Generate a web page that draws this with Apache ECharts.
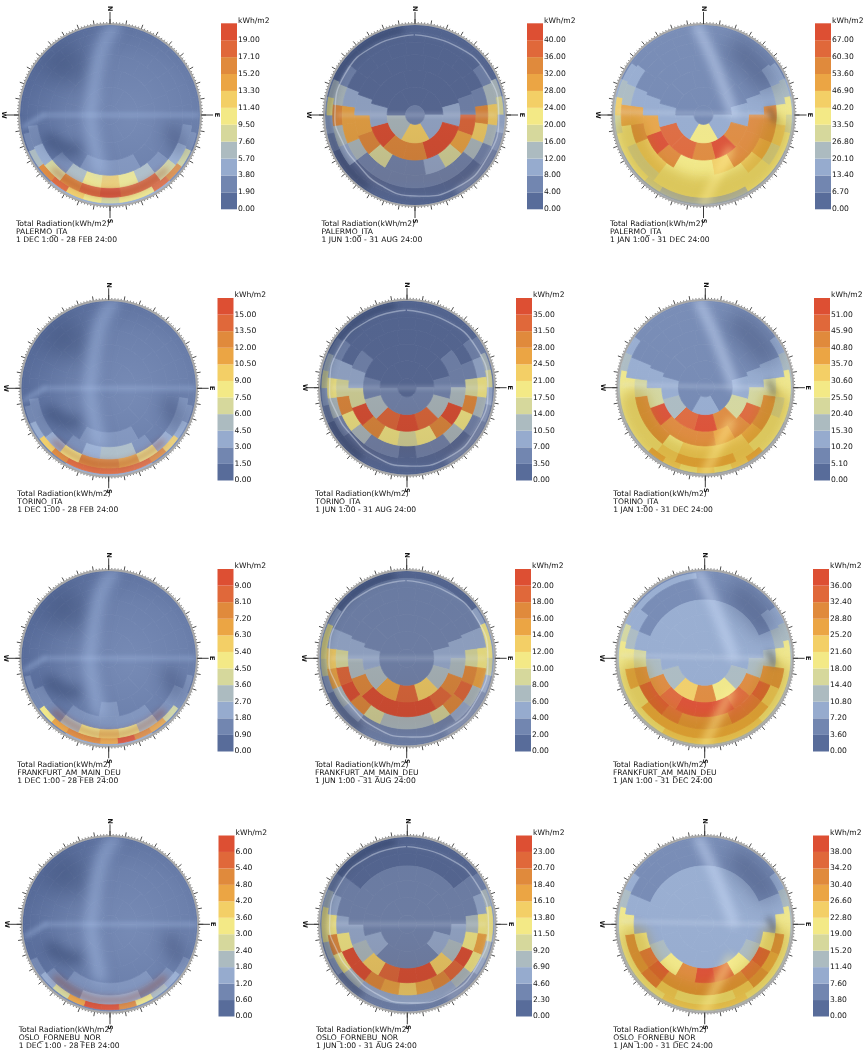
<!DOCTYPE html>
<html><head><meta charset="utf-8">
<style>html,body{margin:0;padding:0;background:#fff}#c{width:868px;height:1055px;filter:blur(0.55px)}</style>
<script src="https://cdn.jsdelivr.net/npm/echarts@6/dist/echarts.min.js"></script>
</head><body><div id="c"></div>
<script>
// Sky patches, N clockwise; eight bands from horizon to zenith. Values in kWh/m2.
const palermoDJF=[
[.9,.9,.9,.9,.9,.9,.9,.9,.9,.9,2.8,2.8,4.7,4.7,4.7,4.7,4.7,4.7,4.7,2.8,2.8,.9,.9,.9,.9,.9,.9,.9,.9,.9],
[.9,.9,.9,.9,.9,.9,.9,.9,.9,2.8,8.5,16.1,18,10.4,10.4,8.5,10.4,12.3,18,16.1,6.6,2.8,.9,.9,.9,.9,.9,.9,.9,.9],
[.9,.9,.9,.9,.9,.9,.9,2.8,4.7,8.5,18,18,19.9,18,16.1,8.5,4.7,2.8,.9,.9,.9,.9,.9,.9],
[.9,.9,.9,.9,.9,.9,.9,.9,.9,2.8,6.6,10.4,12.3,10.4,6.6,2.8,.9,.9,.9,.9,.9,.9,.9,.9],
[.9,.9,.9,.9,.9,.9,.9,.9,2.8,2.8,2.8,.9,.9,.9,.9,.9,.9,.9],
[.9,.9,.9,.9,.9,.9,.9,.9,.9,.9,.9,.9],
[.9,.9,.9,.9,.9,.9],[.9]];
const palermoJJA=[
[2,2,2,2,2,2,6,10,10,6,2,2,2,2,2,2,2,2,2,2,2,6,10,10,6,2,2,2,2,2],
[2,2,2,2,2,2,14,18,10,6,2,2,2,2,2,2,2,2,2,2,2,6,10,22,14,2,2,2,2,2],
[2,2,2,2,6,14,26,14,6,2,2,2,2,2,2,2,10,14,34,14,6,2,2,2],
[2,2,2,2,2,6,34,26,14,6,6,6,6,6,6,6,14,30,30,10,2,2,2,2],
[2,2,2,2,6,38,30,18,10,6,6,18,34,30,10,2,2,2],
[2,2,2,10,42,42,34,34,42,10,2,2],
[2,2,10,26,14,2],[6]];
const palermoYear=[
[10,10,10,10,10,10,16.7,23.4,23.4,23.4,16.7,16.7,16.7,16.7,16.7,16.7,16.7,16.7,16.7,16.7,16.7,23.4,23.4,23.4,16.7,10,10,10,10,10],
[10,10,10,10,10,16.7,23.4,36.8,30.1,36.8,36.8,36.8,36.8,23.4,23.4,23.4,23.4,23.4,30.1,36.8,36.8,36.8,30.1,43.5,23.4,16.7,10,10,10,10],
[10,10,10,10,16.7,23.4,36.8,43.5,30.1,36.8,36.8,36.8,36.8,36.8,36.8,30.1,30.1,36.8,50.2,23.4,16.7,10,10,10],
[10,10,10,10,10,16.7,56.9,56.9,50.2,43.5,36.8,36.8,36.8,36.8,36.8,43.5,43.5,56.9,50.2,16.7,10,10,10,10],
[10,10,10,10,16.7,56.9,56.9,56.9,43.5,36.8,36.8,56.9,70.3,50.2,16.7,10,10,10],
[10,10,10,16.7,56.9,70.3,56.9,63.6,63.6,16.7,10,10],
[10,10,16.7,36.8,16.7,10],[10]];
const torinoDJF=[
[.7,.7,.7,.7,.7,.7,.7,.7,.7,.7,2.2,2.2,2.2,3.7,3.7,3.7,3.7,3.7,2.2,2.2,2.2,.7,.7,.7,.7,.7,.7,.7,.7,.7],
[.7,.7,.7,.7,.7,.7,.7,.7,.7,2.2,3.7,9.7,12.7,14.2,14.2,14.2,14.2,14.2,12.7,9.7,3.7,2.2,.7,.7,.7,.7,.7,.7,.7,.7],
[.7,.7,.7,.7,.7,.7,.7,2.2,2.2,3.7,8.2,11.2,12.7,12.7,8.2,3.7,2.2,2.2,.7,.7,.7,.7,.7,.7],
[.7,.7,.7,.7,.7,.7,.7,.7,.7,.7,2.2,5.2,5.2,3.7,2.2,.7,.7,.7,.7,.7,.7,.7,.7,.7],
[.7,.7,.7,.7,.7,.7,.7,.7,2.2,2.2,2.2,.7,.7,.7,.7,.7,.7,.7],
[.7,.7,.7,.7,.7,.7,.7,.7,.7,.7,.7,.7],
[.7,.7,.7,.7,.7,.7],[.7]];
const torinoJJA=[
[1.7,1.7,1.7,1.7,1.7,5.2,5.2,5.2,5.2,1.7,1.7,1.7,1.7,1.7,1.7,1.7,1.7,1.7,1.7,1.7,1.7,5.2,5.2,5.2,5.2,1.7,1.7,1.7,1.7,1.7],
[1.7,1.7,1.7,1.7,1.7,5.2,12.2,15.7,8.7,5.2,1.7,1.7,1.7,1.7,1.7,1.7,1.7,1.7,1.7,1.7,1.7,5.2,8.7,15.7,12.2,5.2,1.7,1.7,1.7,1.7],
[1.7,1.7,1.7,1.7,5.2,8.7,19.2,12.2,5.2,1.7,1.7,1.7,1.7,1.7,1.7,1.7,5.2,12.2,19.2,8.7,5.2,1.7,1.7,1.7],
[1.7,1.7,1.7,1.7,1.7,5.2,15.7,29.7,19.2,12.2,5.2,5.2,1.7,5.2,5.2,12.2,19.2,29.7,15.7,8.7,1.7,1.7,1.7,1.7],
[1.7,1.7,1.7,5.2,5.2,12.2,36.7,29.7,19.2,15.7,19.2,29.7,36.7,15.7,8.7,5.2,1.7,1.7],
[1.7,1.7,1.7,5.2,12.2,33.2,36.7,33.2,12.2,5.2,1.7,1.7],
[1.7,1.7,5.2,5.2,5.2,1.7],[1.7]];
const torinoYear=[
[7.6,7.6,7.6,7.6,7.6,12.7,17.8,17.8,17.8,17.8,12.7,12.7,12.7,12.7,12.7,12.7,12.7,12.7,12.7,12.7,12.7,17.8,17.8,17.8,17.8,12.7,7.6,7.6,7.6,7.6],
[7.6,7.6,7.6,7.6,7.6,12.7,17.8,28,28,28,28,28,38.2,33.1,28,33.1,28,33.1,38.2,28,28,28,28,28,17.8,12.7,7.6,7.6,7.6,7.6],
[7.6,7.6,7.6,7.6,7.6,12.7,28,22.9,28,28,33.1,38.2,38.2,38.2,33.1,28,28,28,28,12.7,7.6,7.6,7.6,7.6],
[7.6,7.6,7.6,7.6,7.6,12.7,22.9,43.3,43.3,38.2,33.1,33.1,33.1,33.1,28,43.3,43.3,43.3,22.9,12.7,7.6,7.6,7.6,7.6],
[7.6,7.6,7.6,7.6,12.7,22.9,48.4,43.3,38.2,43.3,43.3,43.3,53.5,22.9,12.7,7.6,7.6,7.6],
[7.6,7.6,7.6,12.7,22.9,43.3,53.5,48.4,17.8,12.7,7.6,7.6],
[7.6,7.6,7.6,12.7,7.6,7.6],[7.6]];
const frankfurtDJF=[
[.4,.4,.4,.4,.4,.4,.4,.4,.4,.4,1.3,1.3,1.3,2.2,2.2,2.2,2.2,2.2,1.3,1.3,1.3,.4,.4,.4,.4,.4,.4,.4,.4,.4],
[.4,.4,.4,.4,.4,.4,.4,.4,.4,1.3,1.3,4,6.7,7.6,9.4,6.7,7.6,7.6,6.7,4.9,1.3,1.3,.4,.4,.4,.4,.4,.4,.4,.4],
[.4,.4,.4,.4,.4,.4,.4,.4,1.3,1.3,3.1,4.9,5.8,4.9,3.1,1.3,1.3,.4,.4,.4,.4,.4,.4,.4],
[.4,.4,.4,.4,.4,.4,.4,.4,.4,.4,1.3,1.3,1.3,1.3,1.3,.4,.4,.4,.4,.4,.4,.4,.4,.4],
[.4,.4,.4,.4,.4,.4,.4,.4,.4,1.3,.4,.4,.4,.4,.4,.4,.4,.4],
[.4,.4,.4,.4,.4,.4,.4,.4,.4,.4,.4,.4],
[.4,.4,.4,.4,.4,.4],[.4]];
const frankfurtJJA=[
[1,1,1,1,1,3,5,5,5,3,3,3,3,3,3,3,3,3,3,3,3,3,5,5,5,3,1,1,1,1],
[1,1,1,1,1,5,11,11,9,5,3,3,3,3,3,3,3,3,3,3,3,5,9,11,11,5,1,1,1,1],
[3,3,3,3,3,5,11,15,7,5,3,3,3,3,3,5,7,15,13,5,3,3,3,3],
[3,3,3,3,3,5,9,17,19,17,9,7,7,7,9,17,21,19,9,5,3,3,3,3],
[3,3,3,3,5,7,17,19,21,21,21,21,17,7,5,3,3,3],
[3,3,3,5,7,13,19,15,7,5,3,3],
[3,3,3,3,3,3],[3]];
const frankfurtYear=[
[5.4,5.4,5.4,5.4,5.4,9,12.6,12.6,12.6,12.6,12.6,12.6,12.6,12.6,12.6,12.6,12.6,12.6,12.6,12.6,12.6,12.6,12.6,12.6,12.6,9,5.4,5.4,5.4,5.4],
[5.4,5.4,5.4,5.4,5.4,9,12.6,19.8,19.8,19.8,19.8,19.8,23.4,23.4,23.4,23.4,23.4,23.4,19.8,19.8,19.8,19.8,19.8,19.8,16.2,9,9,9,9,9],
[5.4,5.4,5.4,5.4,9,12.6,19.8,30.6,23.4,27,27,27,27,27,27,27,19.8,27,19.8,12.6,9,5.4,5.4,5.4],
[5.4,5.4,5.4,5.4,5.4,9,12.6,30.6,37.8,34.2,34.2,30.6,30.6,30.6,34.2,37.8,37.8,30.6,16.2,9,5.4,5.4,5.4,5.4],
[9,9,9,9,9,12.6,30.6,34.2,37.8,37.8,37.8,34.2,30.6,12.6,9,9,9,9],
[9,9,9,9,12.6,19.8,30.6,23.4,12.6,9,9,9],
[9,9,9,9,9,9],[9]];
const osloDJF=[
[.3,.3,.3,.3,.3,.3,.3,.3,.3,.3,.9,.9,.9,.9,.9,.9,.9,.9,.9,.9,.9,.3,.3,.3,.3,.3,.3,.3,.3,.3],
[.3,.3,.3,.3,.3,.3,.3,.3,.3,.3,.9,1.5,2.1,3.3,5.1,6.3,6.3,4.5,2.7,1.5,.9,.3,.3,.3,.3,.3,.3,.3,.3,.3],
[.3,.3,.3,.3,.3,.3,.3,.3,.3,.9,.9,1.5,1.5,1.5,.9,.9,.3,.3,.3,.3,.3,.3,.3,.3],
[.3,.3,.3,.3,.3,.3,.3,.3,.3,.3,.9,.9,.9,.9,.9,.3,.3,.3,.3,.3,.3,.3,.3,.3],
[.3,.3,.3,.3,.3,.3,.3,.3,.3,.3,.3,.3,.3,.3,.3,.3,.3,.3],
[.3,.3,.3,.3,.3,.3,.3,.3,.3,.3,.3,.3],
[.3,.3,.3,.3,.3,.3],[.3]];
const osloJJA=[
[1.1,1.1,1.1,1.1,1.1,3.4,5.7,5.7,5.7,3.4,3.4,3.4,3.4,3.4,3.4,3.4,3.4,3.4,3.4,3.4,3.4,3.4,5.7,5.7,5.7,3.4,1.1,1.1,1.1,1.1],
[1.1,1.1,1.1,1.1,1.1,3.4,8,12.6,12.6,8,5.7,3.4,3.4,3.4,3.4,3.4,3.4,3.4,3.4,3.4,5.7,8,12.6,12.6,8,3.4,1.1,1.1,1.1,1.1],
[1.1,1.1,1.1,1.1,3.4,5.7,12.6,17.2,12.6,8,5.7,5.7,5.7,5.7,5.7,8,12.6,19.5,12.6,5.7,3.4,1.1,1.1,1.1],
[1.1,1.1,1.1,1.1,3.4,3.4,8,12.6,24.1,21.8,19.5,17.2,14.9,17.2,19.5,24.1,24.1,12.6,5.7,3.4,3.4,1.1,1.1,1.1],
[3.4,3.4,3.4,3.4,3.4,5.7,8,14.9,24.1,24.1,21.8,14.9,8,5.7,3.4,3.4,3.4,3.4],
[3.4,3.4,3.4,3.4,5.7,3.4,3.4,3.4,5.7,3.4,3.4,3.4],
[3.4,3.4,3.4,3.4,3.4,3.4],[3.4]];
const osloYear=[
[5.7,5.7,5.7,5.7,5.7,9.5,13.3,13.3,13.3,13.3,13.3,13.3,13.3,13.3,13.3,13.3,13.3,13.3,13.3,13.3,13.3,13.3,13.3,13.3,13.3,9.5,5.7,5.7,5.7,5.7],
[5.7,5.7,5.7,5.7,5.7,9.5,13.3,20.9,20.9,20.9,20.9,20.9,20.9,24.7,24.7,24.7,24.7,24.7,20.9,20.9,20.9,20.9,20.9,20.9,13.3,9.5,5.7,5.7,5.7,5.7],
[5.7,5.7,5.7,5.7,5.7,9.5,20.9,32.3,28.5,32.3,24.7,20.9,20.9,20.9,24.7,36.1,32.3,32.3,20.9,9.5,5.7,5.7,5.7,5.7],
[5.7,5.7,5.7,5.7,5.7,9.5,9.5,20.9,39.9,36.1,32.3,32.3,32.3,32.3,32.3,39.9,36.1,20.9,9.5,9.5,5.7,5.7,5.7,5.7],
[9.5,9.5,9.5,9.5,9.5,9.5,13.3,20.9,36.1,39.9,32.3,20.9,13.3,9.5,9.5,9.5,9.5,9.5],
[9.5,9.5,9.5,9.5,9.5,9.5,9.5,9.5,9.5,9.5,9.5,9.5],
[9.5,9.5,9.5,9.5,9.5,9.5],[9.5]];

const bandEdges=[1,.978,.914,.809,.669,.5,.309,.1045,0];
const palette=['#586c9a','#7286b0','#96abce','#acbbc0','#d6d89c','#f3e986','#f3cf66','#eba544','#e08a3c','#e0683a','#dd4f33'];
const compass=['N','E','S','W'];

// Glass sheen on the dome. p: [radius fraction, azimuth]. solid strokes are drawn; the rest are blur only.
const winterSheen={
 disc:()=>new echarts.graphic.RadialGradient(.62,.52,.62,[{offset:0,color:'rgba(190,210,245,.30)'},{offset:.55,color:'rgba(190,210,245,.20)'},{offset:1,color:'rgba(190,210,245,0)'}]),
 strokes:[
 {p:[[.8,310],[.8,325],[.6,320]],w:26,c:'rgba(30,45,85,.30)',b:22},
 {p:[[.72,248],[.64,235],[.55,225]],w:14,c:'rgba(30,45,85,.38)',b:12},
 {p:[[.72,105],[.85,115]],w:18,c:'rgba(30,45,85,.25)',b:14},
 {p:[[.87,135],[.87,160],[.87,180],[.87,200],[.87,225]],w:6,c:'rgba(150,40,0,.35)',b:6},
 {p:[[.98,3],[.8,355],[.52,343],[.26,311],[.22,270],[.33,214],[.62,190]],w:11,c:'rgba(175,200,240,.50)',b:12},
 {p:[[.74,270],[1,90]],w:2,c:'rgba(180,205,245,.65)',b:5},
 {p:[[.74,270],[.97,262]],w:4,c:'rgba(175,200,240,.45)',b:5},
 ]};
const summerSheen={
 disc:()=>new echarts.graphic.LinearGradient(0,0,0,1,[{offset:0,color:'rgba(40,40,60,.12)'},{offset:.5,color:'rgba(60,40,40,.10)'},{offset:.85,color:'rgba(70,40,30,.16)'},{offset:1,color:'rgba(40,40,60,.12)'}]),
 strokes:[
 {p:[[.96,215],[.96,250],[.96,285],[.96,320],[.96,350]],w:7,c:'rgba(25,40,75,.40)',b:7},
 {p:[[.89,0],[.89,30],[.92,60],[.93,90],[.93,120],[.93,150],[.9,180],[.87,205],[.84,230],[.86,250],[.89,270],[.9,300],[.89,330],[.89,359]],w:1.4,c:'rgba(230,238,250,.40)',b:4,solid:true},
 {p:[[.97,100],[.97,125],[.97,150]],w:5,c:'rgba(225,235,250,.35)',b:6},
 {p:[[.86,270],[.9,90]],w:1.5,c:'rgba(230,238,250,.55)',b:4},
 ]};
const yearSheen={
 disc:()=>new echarts.graphic.LinearGradient(0,0,0,1,[{offset:0,color:'rgba(190,210,245,.10)'},{offset:.5,color:'rgba(190,210,245,.08)'},{offset:1,color:'rgba(190,210,245,0)'}]),
 strokes:[
 {p:[[.83,103],[.85,130],[.85,155],[.85,180],[.85,205],[.85,230],[.83,257]],w:30,c:'rgba(175,135,10,.34)',b:12},
 {p:[[.83,29],[.8,61]],w:26,c:'rgba(30,45,85,.32)',b:20},
 {p:[[.98,356],[.69,6],[.46,23],[.33,87]],w:9,c:'rgba(205,222,250,.60)',b:10},
 {p:[[.98,180],[.7,168],[.49,143]],w:7,c:'rgba(255,240,150,.60)',b:9},
 {p:[[.95,272],[.74,90]],w:2.5,c:'rgba(225,235,250,.40)',b:4},
 {p:[[.74,85],[.8,95]],w:4,c:'rgba(50,50,50,.55)',b:6},
 ]};

const panels=[
 {v:palermoDJF,step:1.9,n:'PALERMO_ITA',d:'1 DEC 1:00 - 28 FEB 24:00',s:winterSheen,c:[110,115],R:90,l:[221,23.3,186],t:[16,220]},
 {v:palermoJJA,step:4,n:'PALERMO_ITA',d:'1 JUN 1:00 - 31 AUG 24:00',s:summerSheen,c:[415,115],R:90,l:[527,23.3,186],t:[321.5,220]},
 {v:palermoYear,step:6.7,n:'PALERMO_ITA',d:'1 JAN 1:00 - 31 DEC 24:00',s:yearSheen,c:[703.5,115],R:90,l:[815,23.3,186],t:[610,220]},
 {v:torinoDJF,step:1.5,n:'TORINO_ITA',d:'1 DEC 1:00 - 28 FEB 24:00',s:winterSheen,c:[108.7,388.3],R:87.3,l:[217.5,298,182.5],t:[17.3,490]},
 {v:torinoJJA,step:3.5,n:'TORINO_ITA',d:'1 JUN 1:00 - 31 AUG 24:00',s:summerSheen,c:[407,387.7],R:87,l:[516,298,182.5],t:[315.3,490]},
 {v:torinoYear,step:5.1,n:'TORINO_ITA',d:'1 JAN 1:00 - 31 DEC 24:00',s:yearSheen,c:[705.3,387.7],R:87,l:[814,298,182.5],t:[613.3,490]},
 {v:frankfurtDJF,step:.9,n:'FRANKFURT_AM_MAIN_DEU',d:'1 DEC 1:00 - 28 FEB 24:00',s:winterSheen,c:[108.7,658.3],R:87.3,l:[217.5,569,182.5],t:[17.3,761]},
 {v:frankfurtJJA,step:2,n:'FRANKFURT_AM_MAIN_DEU',d:'1 JUN 1:00 - 31 AUG 24:00',s:summerSheen,c:[406.7,658.3],R:87.3,l:[515,569,182.5],t:[315,761]},
 {v:frankfurtYear,step:3.6,n:'FRANKFURT_AM_MAIN_DEU',d:'1 JAN 1:00 - 31 DEC 24:00',s:yearSheen,c:[704.7,658.3],R:87.3,l:[813,569,182.5],t:[613,761]},
 {v:osloDJF,step:.6,n:'OSLO_FORNEBU_NOR',d:'1 DEC 1:00 - 28 FEB 24:00',s:winterSheen,c:[110,924.3],R:87.3,l:[218.5,835.5,181],t:[18.7,1026.3]},
 {v:osloJJA,step:2.3,n:'OSLO_FORNEBU_NOR',d:'1 JUN 1:00 - 31 AUG 24:00',s:summerSheen,c:[407.3,924.3],R:87.3,l:[516,835.5,181],t:[316,1026.3]},
 {v:osloYear,step:3.8,n:'OSLO_FORNEBU_NOR',d:'1 JAN 1:00 - 31 DEC 24:00',s:yearSheen,c:[704.7,924.3],R:87.3,l:[813,835.5,181],t:[613.3,1026.3]},
];
const FONT='"DejaVu Sans"', FS=7.6, INK='#111';
const option={animation:false,backgroundColor:'#fff',title:[],polar:[],angleAxis:[],radiusAxis:[],grid:[],xAxis:[],yAxis:[],series:[]};
const OFF=3000;

panels.forEach((P,i)=>{
 const rMax=(P.R+1)/P.R, colorOf=v=>palette[Math.min(10,Math.floor(v/P.step))];
 const L=P.l,cx=P.c[0],cy=P.c[1];
 option.title.push({left:P.t[0],top:P.t[1],padding:0,text:'Total Radiation(kWh/m2)\n'+P.n+'\n'+P.d,
  textStyle:{fontFamily:FONT,fontSize:FS,lineHeight:8,fontWeight:'normal',color:INK}});
 option.title.push({left:L[0]+17,top:L[1]-6.6,padding:0,text:'kWh/m2',textStyle:{fontFamily:FONT,fontSize:FS,lineHeight:8,fontWeight:'normal',color:INK}});
 option.polar.push({center:P.c,radius:P.R+1});
 option.radiusAxis.push({polarIndex:i,min:0,max:rMax,show:false});
 option.angleAxis.push({polarIndex:i,type:'value',min:0,max:360,interval:10,startAngle:90,clockwise:true,z:6,
  axisLine:{lineStyle:{color:'#a8a8a8',width:2}},
  axisTick:{length:5,lineStyle:{color:'#222',width:.8}},
  minorTick:{show:true,splitNumber:5,length:2,lineStyle:{color:'#222',width:.6}},
  splitLine:{show:false},axisLabel:{show:false}});
 // sky cells
 const cells=[];
 P.v.forEach((row,b)=>row.forEach((v,k)=>{
  const w=360/row.length, a=k*w-w/2;
  cells.push([bandEdges[b+1],a,bandEdges[b],a+w,v]);
 }));
 option.series.push({type:'custom',coordinateSystem:'polar',polarIndex:i,silent:true,clip:false,z:2,data:cells,
  renderItem:(p,api)=>{
   const rI=api.value(0),a0=api.value(1),rO=api.value(2),a1=api.value(3),col=colorOf(api.value(4));
   const pts=[],n=Math.max(1,Math.ceil((a1-a0)/3));
   for(let j=0;j<=n;j++)pts.push(api.coord([rO,a0+(a1-a0)*j/n]));
   if(rI>0)for(let j=n;j>=0;j--)pts.push(api.coord([rI,a0+(a1-a0)*j/n]));
   return {type:'polygon',shape:{points:pts},style:{fill:col,stroke:col,lineWidth:.8}};
  }});
 // sheen
 const strokes=P.s.strokes;
 option.series.push({type:'custom',coordinateSystem:'polar',polarIndex:i,silent:true,clip:false,z:3,
  data:[[0,0]].concat(strokes.map((_,k)=>[k+1,0])),
  renderItem:(p,api)=>{
   const k=p.dataIndex;
   if(k===0){
    const pts=[];for(let a=0;a<360;a+=5)pts.push(api.coord([1,a]));
    return {type:'polygon',shape:{points:pts},style:{fill:P.s.disc()}};
   }
   const S=strokes[k-1],clip={type:'circle',shape:{cx:cx,cy:cy,r:P.R}},smooth=S.p.length>2?.5:0;
   const pts=S.p.map(q=>api.coord(q));
   if(S.solid)return {type:'polyline',shape:{points:pts,smooth},
    style:{fill:'none',stroke:S.c,lineWidth:S.w,shadowBlur:S.b,shadowColor:S.c},clipPath:clip};
   return {type:'polyline',shape:{points:pts.map(q=>[q[0]-OFF,q[1]]),smooth},
    style:{fill:'none',stroke:'#000',lineWidth:S.w,lineCap:'round',shadowBlur:S.b,shadowColor:S.c,shadowOffsetX:OFF},clipPath:clip};
  }});
 // compass ticks and rotated letters
 option.series.push({type:'custom',coordinateSystem:'polar',polarIndex:i,silent:true,clip:false,z:7,
  data:[[1,0],[1,90],[1,180],[1,270]],
  renderItem:(p,api)=>{
   const a=api.value(1),s=api.coord([1.01,a]),e=api.coord([1.145,a]),t=api.coord([1.18,a]);
   return {type:'group',children:[
    {type:'line',shape:{x1:s[0],y1:s[1],x2:e[0],y2:e[1]},style:{stroke:'#3a3a3a',lineWidth:1}},
    {type:'text',x:t[0],y:t[1],rotation:-Math.PI/2,style:{text:compass[p.dataIndex],fontFamily:FONT,fontSize:6.5,fontWeight:'bold',fill:'#111',align:'center',verticalAlign:'middle'}}
   ]};
  }});
 // legend bar
 const top=11*P.step;
 option.grid.push({left:L[0],top:L[1],width:16,height:L[2]});
 option.xAxis.push({gridIndex:i,type:'value',min:0,max:1,show:false});
 option.yAxis.push({gridIndex:i,type:'value',position:'right',min:0,max:top,interval:P.step,
  axisLine:{show:false},axisTick:{show:false},splitLine:{show:false},
  axisLabel:{margin:1,verticalAlign:'middle',padding:[0,0,4,0],fontFamily:FONT,fontSize:FS,color:INK,formatter:v=>v>10.5*P.step?'':v.toFixed(2)}});
 option.series.push({type:'custom',coordinateSystem:'cartesian2d',xAxisIndex:i,yAxisIndex:i,silent:true,clip:false,
  data:palette.map((c,k)=>[k*P.step,(k+1)*P.step]),
  renderItem:(p,api)=>{
   const a=api.coord([0,api.value(0)]),b=api.coord([1,api.value(1)]);
   return {type:'rect',shape:{x:a[0],y:b[1],width:b[0]-a[0],height:a[1]-b[1]},style:{fill:palette[p.dataIndex]}};
  }});
});
const chart=echarts.init(document.getElementById('c'),null,{renderer:'canvas',width:868,height:1055});
chart.setOption(option);
</script></body></html>
